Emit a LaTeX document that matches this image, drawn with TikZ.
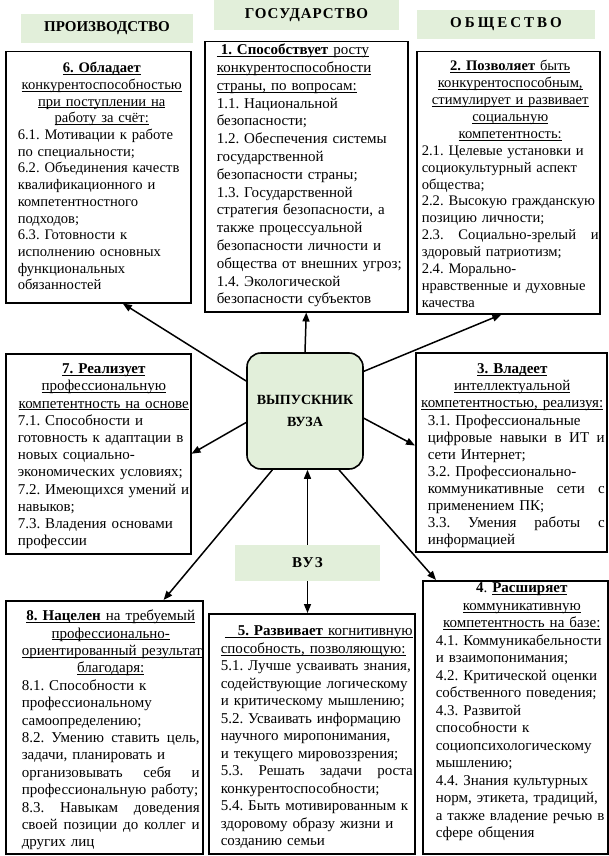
\documentclass[tikz,border=0pt]{standalone}
\usepackage{fontspec}
\setmainfont{Liberation Serif}
\usepackage{xcolor}
\usepackage{tikz}
\usetikzlibrary{arrows.meta}

\definecolor{tagfill}{HTML}{E2EFDA}
\newsavebox\ulbox
\newcommand\ulin[1]{\leavevmode\sbox\ulbox{#1}\rlap{\rule[-2pt]{\wd\ulbox}{0.7pt}}\usebox\ulbox}
\newcommand\spreadln[2]{\leavevmode\hbox to #1{\spaceskip=0.25em plus 1fil\relax #2}}
\newcommand\bodyfont[2]{\fontsize{#1}{#2}\selectfont\lineskiplimit=-100pt\frenchspacing\relax}
\newcommand\cardbody[3]{\hspace*{#1}\parbox[t]{#2}{#3}}

\begin{document}
\begin{tikzpicture}[x=1pt, y=-1pt,
  card/.style={draw, line width=1.5pt, anchor=north west, inner sep=0pt, font=\bodyfont{15}{17.4}},
  tag/.style={fill=tagfill, inner sep=0pt, font=\bfseries\fontsize{15}{18}\selectfont},
  hub/.style={draw, line width=1.6pt, rounded corners=14pt, fill=tagfill, inner sep=0pt, align=center, font=\bfseries\fontsize{14}{22}\selectfont},
  arrow/.style={-{Triangle[length=9pt,width=7pt]}, line width=1.5pt}]

  \useasboundingbox (0,0) rectangle (609,856);

  \node[tag, minimum width=172pt, minimum height=29pt] (prod) at (107,28.5) {ПРОИЗВОДСТВО};
  \node[tag, minimum width=185pt, minimum height=30pt] (gos) at (306.5,15) {\addfontfeature{LetterSpace=6}ГОСУДАРСТВО};
  \node[tag, minimum width=178pt, minimum height=29pt] (obsh) at (506,24.5) {\addfontfeature{LetterSpace=20}ОБЩЕСТВО};
  \node[tag, minimum width=145pt, minimum height=36pt] (vuz) at (307.5,563) {\addfontfeature{LetterSpace=10}ВУЗ};

  \node[hub, minimum width=116pt, minimum height=116pt] (ctr) at (305,411) {ВЫПУСКНИК\\ВУЗА};

  \node[card, text width=185pt, text height=21pt, text depth=230pt, font=\bodyfont{14.6}{16.7}] (b6) at (5,51) {\cardbody{12pt}{168pt}{\centering
    \ulin{\textbf{6. Обладает}}\\
    \ulin{конкурентоспособностью}\\
    \ulin{при поступлении на}\\
    \ulin{работу за счёт:}\par
    \raggedright
    6.1. Мотивации к работе\\
    по специальности;\\
    6.2. Объединения качеств\\
    квалификационного и\\
    компетентностного\\
    подходов;\\
    6.3. Готовности к\\
    исполнению основных\\
    функциональных\\
    обязанностей}};

  \node[card, text width=203pt, text height=13pt, text depth=257pt, font=\bodyfont{15}{17.8}] (b1) at (204,41) {\cardbody{12pt}{190pt}{\raggedright
    \ulin{\hspace*{4pt}\textbf{1. Способствует} росту}\\
    \ulin{конкурентоспособности}\\
    \ulin{страны, по вопросам:}\\
    1.1. Национальной\\
    безопасности;\\
    1.2. Обеспечения системы\\
    государственной\\
    безопасности страны;\\
    1.3. Государственной\\
    стратегия безопасности, а\\
    также процессуальной\\
    безопасности личности и\\
    общества от внешних угроз;\\
    1.4. Экологической\\
    безопасности субъектов}};

  \node[card, text width=183pt, text height=19pt, text depth=243pt, font=\bodyfont{14.6}{16.9}] (b2) at (416,51) {\cardbody{5pt}{177pt}{\centering
    \ulin{\textbf{2. Позволяет} быть}\\
    \ulin{конкурентоспособным,}\\
    \ulin{стимулирует и развивает}\\
    \ulin{социальную}\\
    \ulin{компетентность:}\par
    \raggedright
    2.1. Целевые установки и\\
    социокультурный аспект\\
    общества;\\
    2.2. Высокую гражданскую\\
    позицию личности;\\
    \spreadln{177pt}{2.3. Социально-зрелый и}\\
    здоровый патриотизм;\\
    2.4. Морально-\\
    нравственные и духовные\\
    качества}};

  \node[card, text width=191pt, text height=21pt, text depth=178pt, font=\bodyfont{15}{17.1}] (b3) at (415,352) {\cardbody{2pt}{189pt}{\centering
    \ulin{\textbf{3. Владеет}}\\
    \ulin{интеллектуальной}\\
    \ulin{компетентностью, реализуя:}\par
    \raggedright\leftskip=10pt
    3.1. Профессиональные\\
    \spreadln{177pt}{цифровые навыки в ИТ и}\\
    сети Интернет;\\
    3.2. Профессионально-\\
    \spreadln{177pt}{коммуникативные сети с}\\
    применением ПК;\\
    \spreadln{177pt}{3.3. Умения работы с}\\
    информацией}};

  \node[card, text width=185pt, text height=20pt, text depth=180pt, font=\bodyfont{15}{17.2}] (b7) at (5,353) {\cardbody{12pt}{172pt}{\centering
    \ulin{\textbf{7. Реализует}}\\
    \ulin{профессиональную}\\
    \ulin{компетентность на основе}\par
    \raggedright
    7.1. Способности и\\
    готовность к адаптации в\\
    новых социально-\\
    экономических условиях;\\
    7.2. Имеющихся умений и\\
    навыков;\\
    7.3. Владения основами\\
    профессии}};

  \node[card, text width=197pt, text height=20pt, text depth=233pt] (b8) at (5,600) {\cardbody{16pt}{178pt}{\centering
    \ulin{\textbf{8. Нацелен} на требуемый}\\
    \ulin{профессионально-}\\
    \ulin{ориентированный результат}\\
    \ulin{благодаря:}\par
    \raggedright
    8.1. Способности к\\
    профессиональному\\
    самоопределению;\\
    \spreadln{178pt}{8.2. Умению ставить цель,}\\
    задачи, планировать и\\
    \spreadln{178pt}{организовывать себя и}\\
    профессиональную работу;\\
    \spreadln{178pt}{8.3. Навыкам доведения}\\
    \spreadln{178pt}{своей позиции до коллег и}\\
    других лиц}};

  \node[card, text width=206pt, text height=22pt, text depth=218pt, font=\bodyfont{15}{17.5}] (b5) at (208,613) {\cardbody{12pt}{192pt}{\raggedright
    \hspace*{4pt}\ulin{\hspace*{13pt}\textbf{5. Развивает} когнитивную}\\
    \ulin{способность, позволяющую:}\\
    5.1. Лучше усваивать знания,\\
    содействующие логическому\\
    и критическому мышлению;\\
    5.2. Усваивать информацию\\
    научного миропонимания,\\
    и текущего мировоззрения;\\
    \spreadln{192pt}{5.3. Решать задачи роста}\\
    конкурентоспособности;\\
    5.4. Быть мотивированным к\\
    здоровому образу жизни и\\
    созданию семьи}};

  \node[card, text width=185pt, text height=12pt, text depth=261pt, font=\bodyfont{15}{17.5}] (b4) at (422,580) {\cardbody{13pt}{172pt}{\centering
    \textbf{4}. \ulin{\textbf{Расширяет}}\\
    \ulin{коммуникативную}\\
    \ulin{компетентность на базе:}\par
    \raggedright
    4.1. Коммуникабельности\\
    и взаимопонимания;\\
    4.2. Критической оценки\\
    собственного поведения;\\
    4.3. Развитой\\
    способности к\\
    социопсихологическому\\
    мышлению;\\
    4.4. Знания культурных\\
    норм, этикета, традиций,\\
    а также владение речью в\\
    сфере общения}};

  \draw[arrow] (ctr.153) -- (b6.281);
  \draw[arrow] (ctr.north) -- (b1.south);
  \draw[arrow] (ctr.34) -- (b2.267);
  \draw[arrow] (ctr.191) -- (b7.east);
  \draw[arrow] (ctr.353) -- (b3.176);
  \draw[arrow] (ctr.241) -- (b8.65);
  \draw[arrow] (ctr.300) -- (b4.120);
  \draw[arrow] (vuz.north) -- (vuz.north |- ctr.south);
  \draw[arrow] (vuz.south) -- (vuz.south |- b5.north);

\end{tikzpicture}
\end{document}
